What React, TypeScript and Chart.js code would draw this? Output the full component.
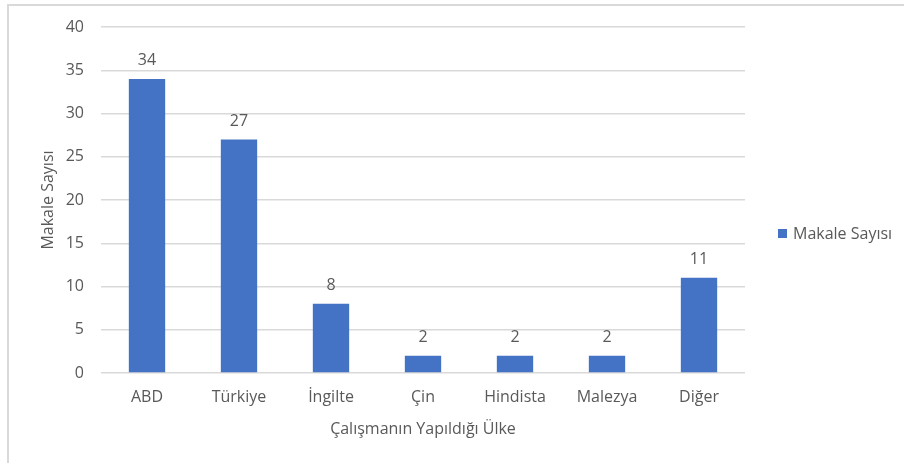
import React, { useEffect, useRef } from "react";
import { Chart, registerables } from "chart.js";

Chart.register(...registerables);

const categories = ["ABD", "Türkiye", "İngilte", "Çin", "Hindista", "Malezya", "Diğer"];
const makaleSayisi = [34, 27, 8, 2, 2, 2, 11];
const seriesLabel = "Makale Sayısı";
const xTitle = "Çalışmanın Yapıldığı Ülke";
const yTitle = "Makale Sayısı";

const FONT = "'Open Sans', 'Noto Sans', sans-serif";
const TEXT = "#595959";
const GRID = "#d9d9d9";
const BAR = "#4472C4";

// value labels above each bar
const valueLabels = {
  id: "valueLabels",
  afterDatasetsDraw(chart: any) {
    const ctx = chart.ctx;
    const meta = chart.getDatasetMeta(0);
    ctx.save();
    ctx.font = `16px ${FONT}`;
    ctx.fillStyle = TEXT;
    ctx.textAlign = "center";
    ctx.textBaseline = "middle";
    meta.data.forEach((el: any, i: number) => {
      ctx.fillText(String(makaleSayisi[i]), el.x, el.y - 18);
    });
    ctx.restore();
  },
};

// legend on the right side
const sideLegend = {
  id: "sideLegend",
  afterDraw(chart: any) {
    const ctx = chart.ctx;
    ctx.save();
    ctx.fillStyle = BAR;
    ctx.fillRect(778, 229, 9, 9);
    ctx.font = `16px ${FONT}`;
    ctx.fillStyle = TEXT;
    ctx.textAlign = "left";
    ctx.textBaseline = "middle";
    ctx.fillText(seriesLabel, 793, 234);
    ctx.restore();
  },
};

export default function App() {
  const ref = useRef<HTMLCanvasElement | null>(null);

  useEffect(() => {
    if (!ref.current) return;
    const chart = new Chart(ref.current, {
      type: "bar",
      data: {
        labels: categories,
        datasets: [
          {
            label: seriesLabel,
            data: makaleSayisi,
            backgroundColor: BAR,
            categoryPercentage: 1,
            barPercentage: 0.395,
          },
        ],
      },
      options: {
        responsive: false,
        animation: false,
        layout: { padding: { top: 27, right: 159, left: 0, bottom: 0 } },
        plugins: {
          legend: { display: false },
          tooltip: { enabled: false },
        },
        scales: {
          x: {
            grid: { display: false },
            border: { display: false },
            ticks: { color: TEXT, font: { family: FONT, size: 16 }, padding: 7, maxRotation: 0 },
            title: {
              display: true,
              text: xTitle,
              color: TEXT,
              font: { family: FONT, size: 16 },
              padding: { top: 0, bottom: 24 },
            },
            afterFit(scale: any) {
              scale.height = 90;
            },
          },
          y: {
            min: 0,
            max: 40,
            ticks: { stepSize: 5, color: TEXT, font: { family: FONT, size: 16 }, padding: 17 },
            grid: { color: GRID, lineWidth: 1.5, drawTicks: false },
            border: { display: false },
            title: {
              display: true,
              text: yTitle,
              color: TEXT,
              font: { family: FONT, size: 16 },
              padding: { top: 39, bottom: 0 },
            },
            afterFit(scale: any) {
              scale.width = 101;
            },
          },
        },
      },
      plugins: [valueLabels, sideLegend],
    });
    return () => chart.destroy();
  }, []);

  return (
    <div style={{ position: "fixed", left: 0, top: 0, width: 904, height: 463, background: "#fff", overflow: "hidden" }}>
      <div
        style={{
          position: "absolute",
          left: 7,
          top: 4,
          width: 920,
          height: 480,
          borderLeft: `2px solid ${GRID}`,
          borderTop: `2px solid ${GRID}`,
          boxSizing: "border-box",
        }}
      />
      <canvas ref={ref} width={904} height={463} style={{ position: "absolute", left: 0, top: 0, width: 904, height: 463 }} />
    </div>
  );
}
